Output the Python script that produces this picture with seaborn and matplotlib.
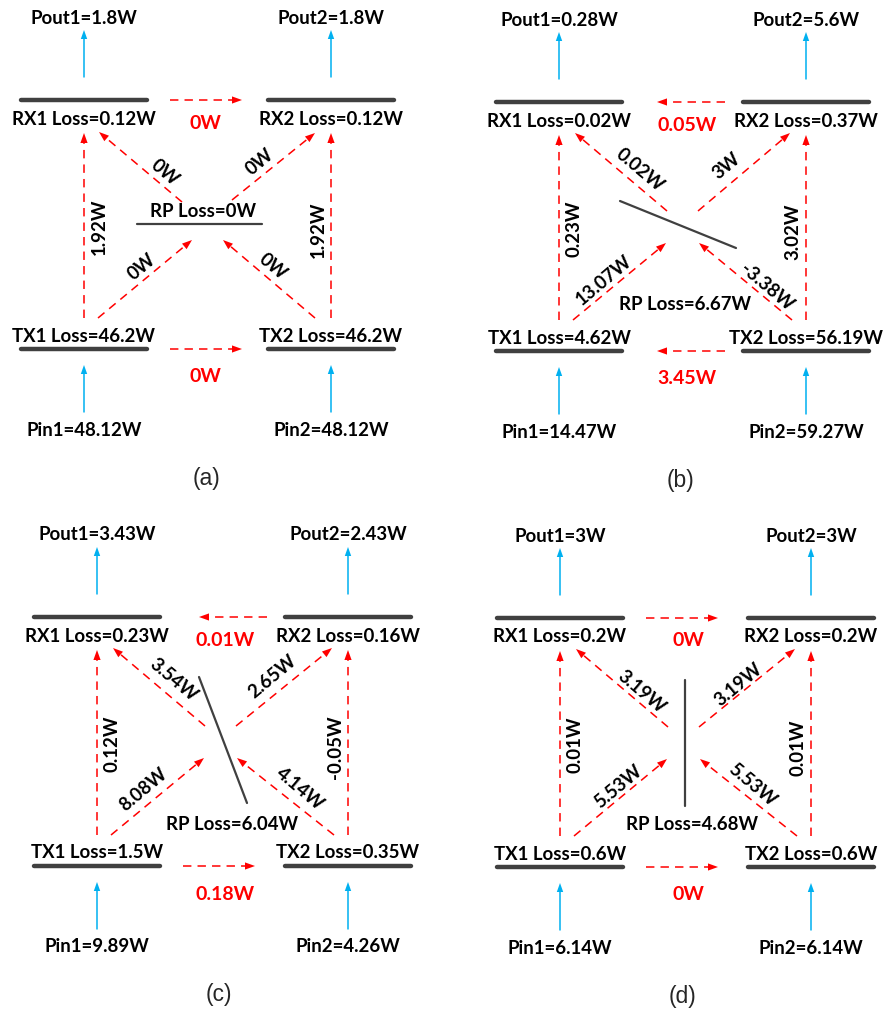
import numpy as np
import matplotlib
matplotlib.use("Agg")
import matplotlib.pyplot as plt
import seaborn as sns

# ---- power-flow values for the four operating cases ----
panels = ["(a)", "(b)", "(c)", "(d)"]
pout1 = [1.8, 0.28, 3.43, 3]
pout2 = [1.8, 5.6, 2.43, 3]
pin1 = [48.12, 14.47, 9.89, 6.14]
pin2 = [48.12, 59.27, 4.26, 6.14]
rx1_loss = [0.12, 0.02, 0.23, 0.2]
rx2_loss = [0.12, 0.37, 0.16, 0.2]
tx1_loss = [46.2, 4.62, 1.5, 0.6]
tx2_loss = [46.2, 56.19, 0.35, 0.6]
rp_loss = [0, 6.67, 6.04, 4.68]
rx_cross = [0, 0.05, 0.01, 0]      # RX1 <-> RX2 transfer
tx_cross = [0, 3.45, 0.18, 0]      # TX1 <-> TX2 transfer
rx_cross_dir = ["right", "left", "left", "right"]
tx_cross_dir = ["right", "left", "right", "right"]
tx1_rx1 = [1.92, 0.23, 0.12, 0.01]
tx2_rx2 = [1.92, 3.02, -0.05, 0.01]
tx1_rp = [0, 13.07, 8.08, 5.53]
tx2_rp = [0, -3.38, 4.14, 5.53]
rp_rx1 = [0, 0.02, 3.54, 3.19]
rp_rx2 = [0, 3, 2.65, 3.19]

# ---- layout (pixel units, y downward) ----
anchors = [(84, 100), (559, 102), (97, 617), (560, 618)]
col_gap = [247, 247, 251, 251]
rp_segment = [((53, 124), (178, 124)), ((61, 99), (177, 146)),
              ((102, 60), (150, 186)), ((125, 62), (125, 188))]
rp_label_pos = [(119, 111), (126, 202), (135, 207), (132, 206)]
diag_label_pos = [
    [(81, 73), (176, 62), (58, 167), (189, 167)],
    [(81, 68), (168, 64), (45, 178), (208, 185)],
    [(77, 63), (175, 60), (46, 173), (203, 172)],
    [(82, 74), (178, 67), (58, 169), (192, 167)],
]

RED = "#FF0000"
BLUE = "#00B0F0"
BAR = "#404040"

sns.set_theme(style="white")
plt.rcParams["font.family"] = ["Lato", "DejaVu Sans"]

fig = plt.figure(figsize=(8.91, 10.15), dpi=100)
ax = fig.add_axes([0, 0, 1, 1])
ax.set_xlim(0, 891)
ax.set_ylim(1015, 0)
ax.set_aspect("equal")
ax.axis("off")

FS = 13.4


def fmt(v):
    return f"{v:g}W"


def arrow(p0, p1, color, dashed, hl=10, hw=3.6, lw=1.1):
    p0 = np.asarray(p0, float)
    p1 = np.asarray(p1, float)
    u = (p1 - p0) / np.linalg.norm(p1 - p0)
    n = np.array([-u[1], u[0]])
    end = p1 - u * hl * 0.8
    if dashed:
        ax.plot([p0[0], end[0]], [p0[1], end[1]], color=color, lw=lw,
                dashes=(5.5, 4), solid_capstyle="butt")
    else:
        ax.plot([p0[0], end[0]], [p0[1], end[1]], color=color, lw=lw)
    base = p1 - u * hl
    tri = np.array([p1, base + n * hw, base - n * hw])
    ax.fill(tri[:, 0], tri[:, 1], color=color, lw=0)


def bar(x0, x1, y):
    ax.plot([x0, x1], [y, y], color=BAR, lw=3.2, solid_capstyle="round")


def label(x, y, s, color="black", rot=0, size=FS):
    ax.text(x, y, s, color=color, fontsize=size, fontweight="bold",
            ha="center", va="center", rotation=rot, rotation_mode="anchor")


for i in range(4):
    ox, oy = anchors[i]
    R = col_gap[i]

    def P(x, y):
        return (ox + x, oy + y)

    # coil bars
    for cx in (0, R):
        bar(ox + cx - 63, ox + cx + 63, oy)
        bar(ox + cx - 63, ox + cx + 63, oy + 249)

    # input / output power
    arrow(P(0, -23), P(0, -70), BLUE, False, hl=9, hw=3.2)
    arrow(P(R, -23), P(R, -70), BLUE, False, hl=9, hw=3.2)
    arrow(P(0, 312), P(0, 265), BLUE, False, hl=9, hw=3.2)
    arrow(P(R, 312), P(R, 265), BLUE, False, hl=9, hw=3.2)
    label(*P(0, -82), f"Pout1={fmt(pout1[i])}")
    label(*P(R, -82), f"Pout2={fmt(pout2[i])}")
    label(*P(0, 330), f"Pin1={fmt(pin1[i])}")
    label(*P(R, 330), f"Pin2={fmt(pin2[i])}")

    # coil losses
    label(*P(0, 19), f"RX1 Loss={fmt(rx1_loss[i])}")
    label(*P(R, 19), f"RX2 Loss={fmt(rx2_loss[i])}")
    label(*P(0, 236), f"TX1 Loss={fmt(tx1_loss[i])}")
    label(*P(R, 236), f"TX2 Loss={fmt(tx2_loss[i])}")

    # TX -> RX on the same side
    arrow(P(0, 218), P(0, 33), RED, True)
    arrow(P(R, 218), P(R, 33), RED, True)
    label(*P(15, 127), fmt(tx1_rx1[i]), rot=90)
    label(*P(R - 13, 130), fmt(tx2_rx2[i]), rot=90)

    # cross transfers between the two sides
    for yy, d, v, ly in ((0, rx_cross_dir[i], rx_cross[i], 23),
                         (249, tx_cross_dir[i], tx_cross[i], 277)):
        if d == "right":
            arrow(P(86, yy), P(158, yy), RED, True)
        else:
            arrow(P(R - 81, yy), P(R - 149, yy), RED, True)
        label(*P(128 if i else 121, ly), fmt(v), color=RED, size=FS + 0.6)

    # diagonal paths through the relay coil
    if i == 0:
        arrow(P(14, 218), P(108, 140), RED, True)
        arrow(P(R - 16, 218), P(139, 140), RED, True)
        arrow(P(98, 102), P(15, 32), RED, True)
        arrow(P(148, 100), P(R - 16, 33), RED, True)
    else:
        arrow(P(14, 218), P(107, 141), RED, True)
        arrow(P(R - 14, 218), P(140, 141), RED, True)
        arrow(P(108, 109), P(16, 31), RED, True)
        arrow(P(139, 109), P(R - 16, 31), RED, True)
    dl = diag_label_pos[i]
    label(*P(*dl[0]), fmt(rp_rx1[i]), rot=-40)
    label(*P(*dl[1]), fmt(rp_rx2[i]), rot=40)
    label(*P(*dl[2]), fmt(tx1_rp[i]), rot=40)
    label(*P(*dl[3]), fmt(tx2_rp[i]), rot=-40)

    # relay coil
    (a0, a1) = rp_segment[i]
    ax.plot([P(*a0)[0], P(*a1)[0]], [P(*a0)[1], P(*a1)[1]],
            color=BAR, lw=1.6, solid_capstyle="round")
    label(*P(*rp_label_pos[i]), f"RP Loss={fmt(rp_loss[i])}")

    # case tag
    ax.text(*P(122, 378), panels[i], fontsize=16.5, ha="center", va="center",
            family=["Liberation Sans", "DejaVu Sans"])

fig.savefig("out.png", dpi=100, facecolor="white")
